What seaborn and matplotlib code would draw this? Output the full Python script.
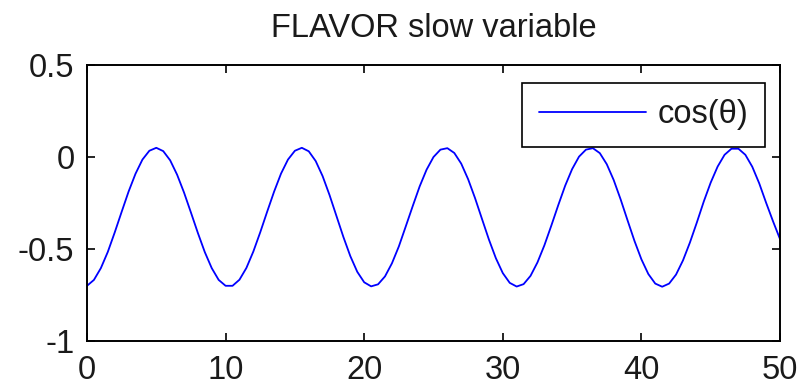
import numpy as np
import pandas as pd
import matplotlib
matplotlib.use("Agg")
import matplotlib.pyplot as plt
import seaborn as sns

title = "FLAVOR slow variable"
series_label = "cos(θ)"
x_ticks = [0, 10, 20, 30, 40, 50]
y_ticks = [-1, -0.5, 0, 0.5]
y_tick_labels = ["-1", "-0.5", "0", "0.5"]

# sample times (every 0.5 from 0 to 50)
t = np.arange(0, 50.25, 0.5)

# cos(theta)
cos_theta = [
    -0.700, -0.668, -0.604, -0.516, -0.410, -0.298, -0.188, -0.091, -0.014, 0.034,
    0.050, 0.032, -0.018, -0.096, -0.193, -0.302, -0.413, -0.517, -0.604, -0.668,
    -0.700, -0.700, -0.667, -0.603, -0.514, -0.409, -0.297, -0.188, -0.090, -0.014,
    0.034, 0.050, 0.031, -0.022, -0.104, -0.207, -0.321, -0.435, -0.539, -0.624,
    -0.681, -0.703, -0.692, -0.649, -0.578, -0.486, -0.377, -0.267, -0.160, -0.069,
    0.000, 0.040, 0.048, 0.022, -0.036, -0.121, -0.224, -0.337, -0.449, -0.550,
    -0.631, -0.684, -0.704, -0.691, -0.646, -0.573, -0.480, -0.373, -0.262, -0.156,
    -0.066, 0.002, 0.040, 0.048, 0.021, -0.039, -0.125, -0.230, -0.344, -0.456,
    -0.556, -0.636, -0.688, -0.705, -0.688, -0.639, -0.562, -0.465, -0.356, -0.242,
    -0.139, -0.052, 0.012, 0.045, 0.045, 0.012, -0.053, -0.143, -0.249, -0.350,
    -0.446,
]

df = pd.DataFrame({"t": t, "cos": cos_theta})

sns.set_theme(style="white")
plt.rcParams["font.family"] = ["Liberation Sans", "DejaVu Sans"]

FS = 23.5

fig = plt.figure(figsize=(8.03, 3.84), dpi=100)
ax = fig.add_axes([87 / 803, 1 - 341 / 384, (780 - 87) / 803, (341 - 65) / 384])

sns.lineplot(data=df, x="t", y="cos", ax=ax, color=(0, 0, 1), linewidth=1.3,
             label=series_label)

ax.set_xlim(0, 50)
ax.set_ylim(-1, 0.5)
ax.set_xticks(x_ticks)
ax.set_xticklabels([str(v) for v in x_ticks])
ax.set_yticks(y_ticks)
ax.set_yticklabels(y_tick_labels)
ax.set_xlabel("")
ax.set_ylabel("")
ax.set_title(title, fontsize=FS, color="#1a1a1a", pad=20)

for s in ax.spines.values():
    s.set_visible(True)
    s.set_color("black")
    s.set_linewidth(1.4)

ax.tick_params(axis="both", which="both", direction="in", length=6, width=1.2,
               top=True, right=True, bottom=True, left=True,
               labelsize=FS, labelcolor="#1a1a1a", color="black")
ax.tick_params(axis="x", pad=10)
ax.tick_params(axis="y", pad=9)

leg = ax.legend(loc="upper right", bbox_to_anchor=(0.978, 0.935), fontsize=FS,
                frameon=True, fancybox=False, shadow=False, handlelength=3.3,
                borderpad=0.5, handletextpad=0.35, borderaxespad=0.0)
leg.get_frame().set_edgecolor("black")
leg.get_frame().set_linewidth(1.2)
leg.get_frame().set_facecolor("white")
leg.get_frame().set_alpha(1)
for txt in leg.get_texts():
    txt.set_color("#1a1a1a")

fig.savefig("out.png", dpi=100)
